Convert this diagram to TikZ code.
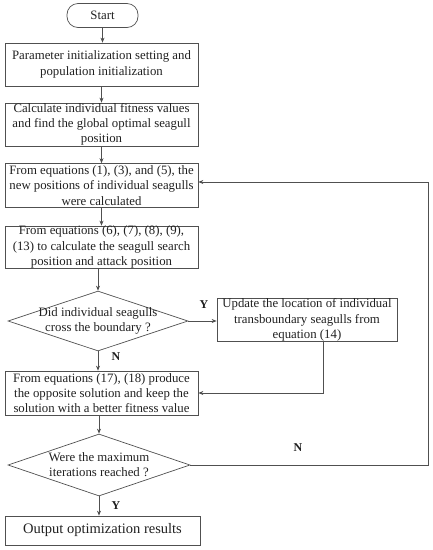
\documentclass[tikz,border=0pt]{standalone}
\usepackage{fontspec}
\setmainfont{Liberation Serif}
\usetikzlibrary{shapes.geometric,arrows.meta}
\definecolor{linec}{HTML}{505050}
\definecolor{textc}{HTML}{202020}
\begin{document}
\begin{tikzpicture}[x=1pt,y=-1pt,
  txt/.style={font=\fontsize{12.8}{15.2}\selectfont, text=textc, align=center, inner sep=0pt},
  box/.style={txt, draw=linec, line width=0.7pt, minimum width=193pt},
  dia/.style={draw=linec, line width=0.7pt, diamond, inner sep=0pt},
  lab/.style={font=\fontsize{12}{13}\selectfont\bfseries, text=textc},
  arr/.style={draw=linec, line width=0.7pt, -{Stealth[length=5pt,width=4pt]}}]
\useasboundingbox (0,0) rectangle (433,550);
\node[txt, draw=linec, line width=0.7pt, rounded corners=11pt, minimum width=71pt, minimum height=24pt] (start) at (102.5,15.5) {Start};
\node[box, minimum height=43pt] (b1) at (101.5,64.5) {Parameter initialization setting and\\population initialization};
\node[box, minimum height=43pt] (b2) at (101.5,124.5) {Calculate individual fitness values\\and find the global optimal seagull\\position};
\node[box, minimum height=44pt] (b3) at (101.5,185.5) {From equations (1), (3), and (5), the\\new positions of individual seagulls\\were calculated};
\node[box, minimum height=42pt] (b4) at (101.5,247) {From equations (6), (7), (8), (9),\\(13) to calculate the seagull search\\position and attack position};
\node[dia, minimum width=180pt, minimum height=60pt] (d1) at (98,321) {};
\node[txt] (d1t) at (98,321) {Did individual seagulls\\cross the boundary ?};
\node[box, minimum width=180pt, minimum height=43pt] (up) at (307,320) {Update the location of individual\\transboundary seagulls from\\equation (14)};
\node[box, minimum height=44pt] (b5) at (101.5,393) {From equations (17), (18) produce\\the opposite solution and keep the\\solution with a better fitness value};
\node[dia, minimum width=182pt, minimum height=62pt] (d2) at (99,465) {};
\node[txt] (d2t) at (99,465) {Were the maximum\\iterations reached ?};
\node[box, minimum width=195pt, minimum height=29pt, font=\fontsize{14.5}{16}\selectfont] (out) at (102.5,530.5) {Output optimization results};
\coordinate (loop) at (428,182);
\coordinate (upc) at (323,394);
\node[lab] (y1) at (204,305) {Y};
\node[lab] (n1) at (116,357) {N};
\node[lab] (n2) at (298,448) {N};
\node[lab] (y2) at (116,506) {Y};
\draw[arr] (start.south) -- (start.south |- b1.north);
\draw[arr] (b1.south) -- (b2.north);
\draw[arr] (b2.south) -- (b3.north);
\draw[arr] (b3.south) -- (b4.north);
\draw[arr] (d1.north |- b4.south) -- (d1.north);
\draw[arr] (d1.east) -- (d1.east -| up.west);
\draw[arr] (d1.south) -- (d1.south |- b5.north);
\draw[arr] (up.south -| upc) |- (b5.east);
\draw[arr] (d2.north |- b5.south) -- (d2.north);
\draw[arr] (d2.south) -- (d2.south |- out.north);
\draw[arr] (d2.east) -| (loop) -- (loop -| b3.east);
\end{tikzpicture}
\end{document}
